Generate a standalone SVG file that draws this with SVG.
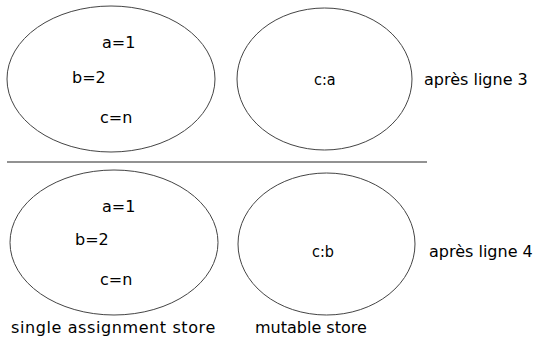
<svg xmlns="http://www.w3.org/2000/svg" width="535" height="337" viewBox="0 0 535 337">
<style>
.st{fill:none;stroke:#444;stroke-width:1}
.t{font-family:"DejaVu Sans",sans-serif;font-size:16px;fill:#000}
.c{font-family:"DejaVu Sans Condensed","DejaVu Sans",sans-serif;font-size:16px;fill:#000}
.sep{stroke:#6e6e6e;stroke-width:1.6}
</style>
<rect width="535" height="337" fill="#fff"/>
<g id="single-store-3">
<ellipse class="st" cx="111" cy="79" rx="104" ry="73"/>
<text class="t" x="102" y="48">a=1</text>
<text class="t" x="72" y="83">b=2</text>
<text class="t" x="100" y="123">c=n</text>
</g>
<g id="mutable-store-3">
<ellipse class="st" cx="324.5" cy="79" rx="87.5" ry="71"/>
<text class="c" x="314" y="85">c:a</text>
</g>
<text class="t" x="424" y="85">après ligne 3</text>
<line class="sep" x1="7" y1="162" x2="427" y2="162"/>
<g id="single-store-4">
<ellipse class="st" cx="114" cy="242.5" rx="104" ry="72.5"/>
<text class="t" x="102" y="212">a=1</text>
<text class="t" x="75" y="245">b=2</text>
<text class="t" x="100" y="285">c=n</text>
</g>
<g id="mutable-store-4">
<ellipse class="st" cx="326.5" cy="244" rx="88.5" ry="71"/>
<text class="c" x="312" y="257">c:b</text>
</g>
<text class="t" x="429" y="257">après ligne 4</text>
<text class="t" x="11" y="333" letter-spacing="0.6">single assignment store</text>
<text class="t" x="255" y="333">mutable store</text>
<g id="connectors"/>
</svg>
